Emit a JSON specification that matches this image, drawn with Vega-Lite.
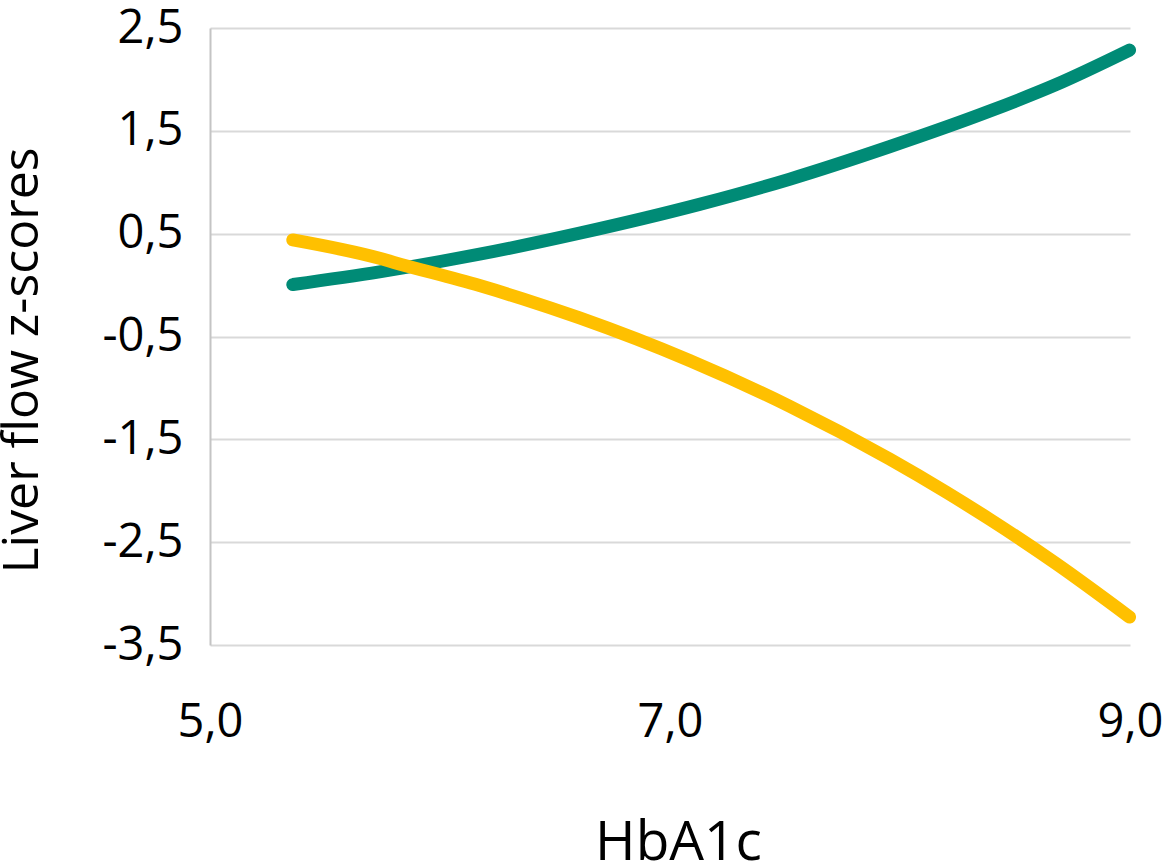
{
  "$schema": "https://vega.github.io/schema/vega-lite/v6.json",
  "width": 920,
  "height": 617,
  "autosize": {"type": "none"},
  "padding": {"left": 210, "top": 28, "right": 42, "bottom": 217},
  "background": "white",
  "config": {
    "view": {"stroke": null},
    "font": "Open Sans"
  },
  "data": {
    "values": [
      {"hba1c": 5.36, "z": 0.005, "series": "A"},
      {"hba1c": 5.737, "z": 0.128, "series": "A"},
      {"hba1c": 6.172, "z": 0.3, "series": "A"},
      {"hba1c": 6.607, "z": 0.505, "series": "A"},
      {"hba1c": 7.128, "z": 0.785, "series": "A"},
      {"hba1c": 7.52, "z": 1.03, "series": "A"},
      {"hba1c": 7.954, "z": 1.345, "series": "A"},
      {"hba1c": 8.389, "z": 1.691, "series": "A"},
      {"hba1c": 8.679, "z": 1.95, "series": "A"},
      {"hba1c": 8.998, "z": 2.285, "series": "A"},
      {"hba1c": 5.36, "z": 0.439, "series": "B"},
      {"hba1c": 5.737, "z": 0.26, "series": "B"},
      {"hba1c": 5.8, "z": 0.22, "series": "B"},
      {"hba1c": 6.172, "z": -0.005, "series": "B"},
      {"hba1c": 6.36, "z": -0.134, "series": "B"},
      {"hba1c": 6.607, "z": -0.32, "series": "B"},
      {"hba1c": 7.085, "z": -0.734, "series": "B"},
      {"hba1c": 7.52, "z": -1.178, "series": "B"},
      {"hba1c": 7.954, "z": -1.69, "series": "B"},
      {"hba1c": 8.2, "z": -2.012, "series": "B"},
      {"hba1c": 8.389, "z": -2.276, "series": "B"},
      {"hba1c": 8.679, "z": -2.709, "series": "B"},
      {"hba1c": 8.998, "z": -3.228, "series": "B"}
    ]
  },
  "mark": {"type": "line", "strokeWidth": 13, "strokeCap": "round", "strokeJoin": "round", "interpolate": "monotone", "clip": false},
  "encoding": {
    "x": {
      "field": "hba1c",
      "type": "quantitative",
      "scale": {"domain": [5, 9], "nice": false, "zero": false},
      "axis": {
        "title": "HbA1c",
        "values": [5, 7, 9],
        "format": ".1f",
        "labelExpr": "replace(datum.label, '.', ',')",
        "grid": false,
        "ticks": false,
        "domain": false,
        "labelFont": "Open Sans",
        "labelFontSize": 47,
        "labelColor": "#000000",
        "labelPadding": 54,
        "labelFlush": false,
        "labelOverlap": false,
        "titleFont": "Open Sans",
        "titleFontSize": 55,
        "titleFontWeight": "normal",
        "titleColor": "#000000",
        "titleBaseline": "alphabetic",
        "titleY": 214,
        "titleX": 468
      }
    },
    "y": {
      "field": "z",
      "type": "quantitative",
      "scale": {"domain": [-3.5, 2.5], "nice": false, "zero": false},
      "axis": {
        "title": "Liver flow z-scores",
        "values": [-3.5, -2.5, -1.5, -0.5, 0.5, 1.5, 2.5],
        "format": ".1f",
        "labelExpr": "replace(replace(datum.label, '.', ','), '\u2212', '-')",
        "grid": true,
        "gridColor": "#d9d9d9",
        "gridWidth": 2,
        "ticks": false,
        "domain": true,
        "domainColor": "#c4c4c4",
        "domainWidth": 2,
        "labelFont": "Open Sans",
        "labelFontSize": 47,
        "labelColor": "#000000",
        "labelPadding": 27,
        "labelFlush": false,
        "labelOverlap": false,
        "titleFont": "Open Sans",
        "titleFontSize": 50,
        "titleFontWeight": "normal",
        "titleColor": "#000000",
        "titleAngle": -90,
        "titleBaseline": "alphabetic",
        "titleAlign": "center",
        "titleX": -173,
        "titleY": 332
      }
    },
    "color": {
      "field": "series",
      "type": "nominal",
      "scale": {"domain": ["A", "B"], "range": ["#008B76", "#FFC000"]},
      "legend": null
    }
  }
}
